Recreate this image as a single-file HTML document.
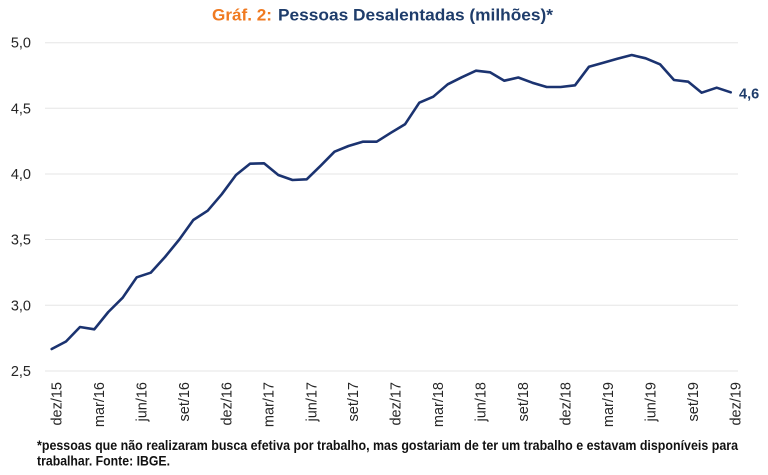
<!DOCTYPE html>
<html>
<head>
<meta charset="utf-8">
<style>
  html, body { margin: 0; padding: 0; background: #ffffff; }
  svg { display: block; }
  text { font-family: "Liberation Sans", "DejaVu Sans", sans-serif; }
</style>
</head>
<body>
<svg width="768" height="475" viewBox="0 0 768 475" xmlns="http://www.w3.org/2000/svg">
  <rect x="0" y="0" width="768" height="475" fill="#ffffff"/>

  <!-- Title -->
  <text x="212" y="20.5" font-size="17" font-weight="bold" fill="#F07A21" textLength="60" lengthAdjust="spacingAndGlyphs">Gráf. 2:</text>
  <text x="278" y="20.5" font-size="17" font-weight="bold" fill="#1F3D6B" textLength="275" lengthAdjust="spacingAndGlyphs">Pessoas Desalentadas (milhões)*</text>

  <!-- Gridlines -->
  <g stroke="#e6e6e6" stroke-width="1">
    <line x1="45" y1="42.7" x2="738" y2="42.7"/>
    <line x1="45" y1="108.3" x2="738" y2="108.3"/>
    <line x1="45" y1="174" x2="738" y2="174"/>
    <line x1="45" y1="239.5" x2="738" y2="239.5"/>
    <line x1="45" y1="305.3" x2="738" y2="305.3"/>
    <line x1="45" y1="371" x2="738" y2="371"/>
  </g>

  <!-- Y axis labels -->
  <g font-size="14.5" fill="#262626" text-anchor="end">
    <text x="31" y="47.7">5,0</text>
    <text x="31" y="113.3">4,5</text>
    <text x="31" y="179">4,0</text>
    <text x="31" y="244.5">3,5</text>
    <text x="31" y="310.3">3,0</text>
    <text x="31" y="376">2,5</text>
  </g>

  <!-- X axis labels (rotated) -->
  <g font-size="14.5" fill="#262626" text-anchor="end">
    <text transform="translate(61.5,382) rotate(-90)">dez/15</text>
    <text transform="translate(104,382) rotate(-90)">mar/16</text>
    <text transform="translate(146.4,382) rotate(-90)">jun/16</text>
    <text transform="translate(189,382) rotate(-90)">set/16</text>
    <text transform="translate(231.4,382) rotate(-90)">dez/16</text>
    <text transform="translate(273.7,382) rotate(-90)">mar/17</text>
    <text transform="translate(316.4,382) rotate(-90)">jun/17</text>
    <text transform="translate(358.2,382) rotate(-90)">set/17</text>
    <text transform="translate(400.7,382) rotate(-90)">dez/17</text>
    <text transform="translate(443,382) rotate(-90)">mar/18</text>
    <text transform="translate(485.7,382) rotate(-90)">jun/18</text>
    <text transform="translate(528,382) rotate(-90)">set/18</text>
    <text transform="translate(570.4,382) rotate(-90)">dez/18</text>
    <text transform="translate(613,382) rotate(-90)">mar/19</text>
    <text transform="translate(655.4,382) rotate(-90)">jun/19</text>
    <text transform="translate(698,382) rotate(-90)">set/19</text>
    <text transform="translate(740.4,382) rotate(-90)">dez/19</text>
  </g>

  <!-- Series line -->
  <polyline fill="none" stroke="#1B3370" stroke-width="2.6" stroke-linejoin="round" stroke-linecap="round"
    points="51.7,349 66,341.5 80,327 94.3,329.3 108.3,312 122.7,297.7 136.7,277.3 150.7,272.7 165,257 179.3,239.5 193.3,220 207.7,210.7 221.7,194.3 236,175 250,163.7 264,163.3 278.3,175 292.5,180 306.7,179.3 320.7,165.7 334.5,151.7 348.5,146 362.7,141.7 376.7,141.7 391,132.7 405,124.3 419.3,102.7 433.3,96.7 447.7,84.3 461.7,77.3 476,70.7 490,72.3 504.3,80.7 518.3,77.5 532.3,82.7 546.7,87 560.7,87 575,85.3 589,66.7 603.3,62.7 617.3,58.7 631.7,55 645.7,58.3 660,64.3 674,80 688.3,81.7 701.7,92.7 716.7,87.7 730.7,92.3"/>

  <!-- End label -->
  <text x="739" y="98.5" font-size="14.5" font-weight="bold" fill="#1F3D6B">4,6</text>

  <!-- Footnote -->
  <text x="37" y="450" font-size="13.5" font-weight="bold" fill="#111111" textLength="701" lengthAdjust="spacingAndGlyphs">*pessoas que não realizaram busca efetiva por trabalho, mas gostariam de ter um trabalho e estavam disponíveis para</text>
  <text x="37" y="465.5" font-size="13.5" font-weight="bold" fill="#111111" textLength="133" lengthAdjust="spacingAndGlyphs">trabalhar. Fonte: IBGE.</text>
</svg>
</body>
</html>
